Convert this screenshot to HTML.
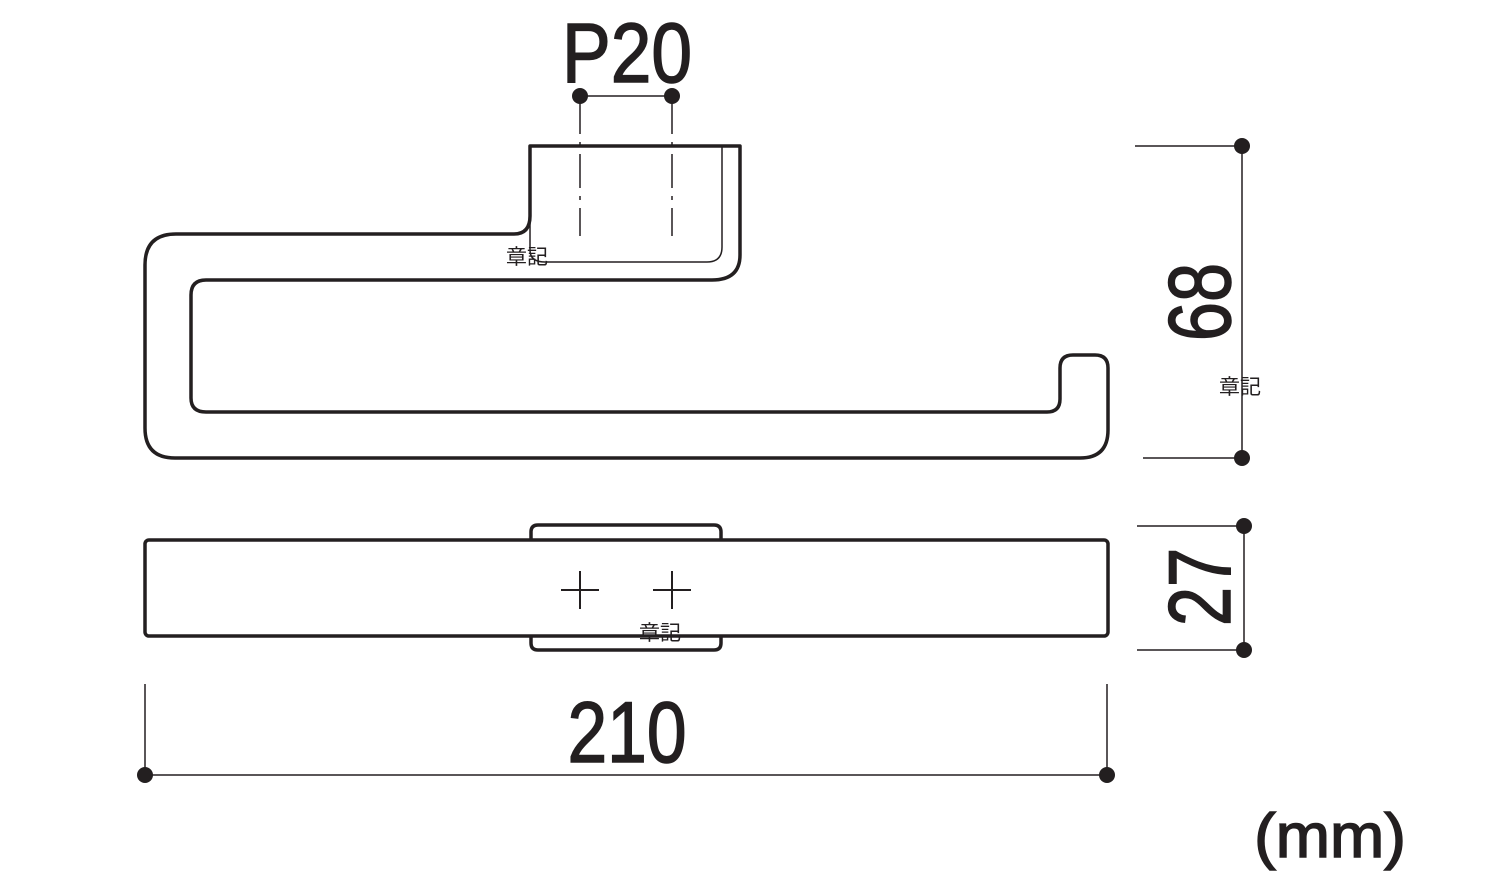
<!DOCTYPE html>
<html><head><meta charset="utf-8"><style>html,body{margin:0;padding:0;background:#fff}svg{display:block}</style></head>
<body>
<svg width="1510" height="891" viewBox="0 0 1510 891" xmlns="http://www.w3.org/2000/svg" font-family="Liberation Sans, sans-serif">
<g fill="none" stroke="#231f20" stroke-linejoin="round">
<path stroke-width="3.5" d="M530,146 H740 V255 Q740,280 712,280 H206 Q191,280 191,295 V398 Q191,412 206,412 H1047 Q1060,412 1060,399 V368 Q1060,355 1073,355 H1095 Q1108,355 1108,368 V430 Q1108,458 1080,458 H175 Q145,458 145,428 V265 Q145,234 176,234 H514 Q530,234 530,216 Z"/>
<path stroke-width="1.5" d="M530,216 V250 Q530,262 545,262 H707 Q722,262 722,247 V146"/>
<path stroke-width="1.5" stroke-dasharray="34,8,4,8" d="M580,100 V236 M672,100 V236"/>
<rect x="145" y="540" width="963" height="96" rx="4" stroke-width="3.5"/>
<path stroke-width="3.5" d="M531,540 V532 Q531,525 538,525 H714 Q721,525 721,532 V540 M531,636 V643 Q531,650 538,650 H714 Q721,650 721,643 V636"/>
<path stroke-width="2" d="M561,590 H599 M580,571 V609 M653,590 H691 M672,571 V609"/>
<path stroke-width="1.5" d="M580,96 H672 M1135,146 H1242 V458 M1143,458 H1242 M1137,526 H1244 V650 M1137,650 H1244 M145,684 V775 H1107 V684"/>
</g>
<g fill="#231f20">
<circle cx="580" cy="96" r="8"/><circle cx="672" cy="96" r="8"/>
<circle cx="1242" cy="146" r="8"/><circle cx="1242" cy="458" r="8"/>
<circle cx="1244" cy="526" r="8"/><circle cx="1244" cy="650" r="8"/>
<circle cx="145" cy="775" r="8"/><circle cx="1107" cy="775" r="8"/>
<g stroke="#231f20" stroke-width="1.5">
<text transform="translate(627,82) scale(0.87,1)" font-size="84" text-anchor="middle">P20</text>
<text transform="translate(627,762) scale(0.83,1)" font-size="86" text-anchor="middle">210</text>
<text transform="translate(1230,302) rotate(-90) scale(0.8,1)" font-size="88" text-anchor="middle">68</text>
<text transform="translate(1230,587) rotate(-90) scale(0.8,1)" font-size="88" text-anchor="middle">27</text>
<text transform="translate(1330,857) scale(1.05,1)" font-size="62" text-anchor="middle">(mm)</text>
</g>
<g font-family="Liberation Sans, Noto Sans CJK JP, sans-serif" font-size="21">
<text x="506" y="264">章記</text>
<text x="1219" y="394">章記</text>
<text x="639" y="640">章記</text>
</g>
</g>
</svg>
</body></html>
